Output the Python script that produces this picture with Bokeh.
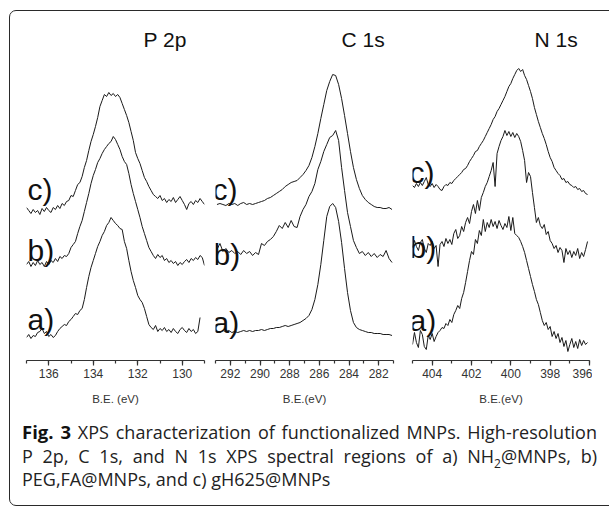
from bokeh.plotting import figure
from bokeh.models import Range1d, SingleIntervalTicker, Label, Div
from bokeh.layouts import row, column
from bokeh.embed import file_html
from bokeh.resources import INLINE

NAN = float("nan")

# ---------------- P 2p ----------------
P_BE = [137.0, 136.9, 136.8, 136.7, 136.6, 136.5, 136.4, 136.3, 136.2, 136.1,
        136.0, 135.9, 135.8, 135.7, 135.6, 135.5, 135.4, 135.3, 135.2, 135.1,
        135.0, 134.9, 134.8, 134.7, 134.6, 134.5, 134.4, 134.3, 134.2, 134.1,
        134.0, 133.9, 133.8, 133.7, 133.6, 133.5, 133.4, 133.3, 133.2, 133.1,
        133.0, 132.9, 132.8, 132.7, 132.6, 132.5, 132.4, 132.3, 132.2, 132.1,
        132.0, 131.9, 131.8, 131.7, 131.6, 131.5, 131.4, 131.3, 131.2, 131.1,
        131.0, 130.9, 130.8, 130.7, 130.6, 130.5, 130.4, 130.3, 130.2, 130.1,
        130.0, 129.9, 129.8, 129.7, 129.6, 129.5, 129.4, 129.3, 129.2, 129.1,
        129.0]
P_C = [165, 162, 159, 163, 160, 162, 158, 164, 161, 165,
       162, 160, 165, 163, 167, 164, 169, 167, 171, 172,
       177, 176, 182, 188, 190, 196, 205, 212, 222, 231,
       238, 246, 255, 266, 272, 278, 276, 280, 277, 279,
       276, 278, 275, 269, 263, 257, 250, 241, 232, 220,
       214, 209, 202, 195, 191, 186, 182, 178, 176, 174,
       177, 172, 174, 170, 173, 171, 175, 170, 173, 176,
       172, 168, 163, 169, 171, 168, 172, 170, 174, 171,
       168]
P_B = [108, 111, 106, 110, 107, 112, 108, 110, 106, 111,
       108, 112, 110, 114, 111, 116, 114, 117, 116, 119,
       125, 128, 131, 139, 146, 152, 161, 170, 179, 189,
       197, 203, 210, 214, 219, 223, 226, 229, 231, 236,
       233, 228, 223, 216, 211, 208, 199, 188, 179, 171,
       163, 155, 146, 139, 132, 125, 121, 117, 114, 118,
       115, 117, 112, 114, 110, 112, 109, 111, 107, 110,
       108, 111, 113, 110, 114, 112, 115, 113, 117, 115,
       107]
P_A = [35, 38, 34, 37, 36, 40, 41, 44, 39, 41,
       36, 38, 35, 37, 41, 44, 46, 48, 47, 51,
       53, 56, 59, 58, 62, 64, 73, 85, 96, 105,
       112, 119, 126, 131, 137, 141, 147, 150, 155, 152,
       149, 147, 144, 143, 131, 124, 112, 101, 92, 85,
       77, 73, 70, 64, 56, 48, 45, 43, 47, 41,
       44, 42, 45, 41, 43, 40, 44, 41, 39, 43,
       45, 42, 40, 44, 41, 43, 39, 41, 55, NAN,
       NAN]

# ---------------- C 1s ----------------
C_BE = [292.9, 292.7, 292.5, 292.3, 292.1, 291.9, 291.7, 291.5, 291.3, 291.1,
        290.9, 290.7, 290.5, 290.3, 290.1, 289.9, 289.7, 289.5, 289.3, 289.1,
        288.9, 288.7, 288.5, 288.3, 288.1, 287.9, 287.7, 287.5, 287.3, 287.1,
        286.9, 286.7, 286.5, 286.3, 286.1, 285.9, 285.7, 285.5, 285.3, 285.1,
        284.9, 284.7, 284.5, 284.3, 284.1, 283.9, 283.7, 283.5, 283.3, 283.1,
        282.9, 282.7, 282.5, 282.3, 282.1, 281.9, 281.7, 281.5, 281.3, 281.1]
C_C = [168, 169, 168, 167, 169, 168, 169, 167, 169, 170,
       168, 169, 168, 169, 170, 171, 172, 174, 175, 177,
       179, 181, 183, 186, 188, 190, 191, 192, 195, 198,
       202, 207, 215, 226, 239, 254, 268, 282, 291, 298,
       297, 288, 274, 257, 239, 221, 205, 193, 184, 177,
       173, 170, 168, 166, 165, 165, 164, 164, 165, 163]
C_B = [123, 129, 121, 124, 120, 122, 119, 121, 118, 122,
       119, 121, 117, 120, 118, 129, 127, 131, 133, 136,
       141, 147, 144, 150, 145, 152, 146, 145, 156, 163,
       168, 176, 181, 189, 203, 211, 221, 228, 235, 237,
       242, 232, 205, 182, 160, 146, 132, 125, 119, 121,
       117, 120, 116, 119, 115, 118, 116, 122, 114, 110]
C_A = [41, 40, 42, 41, 42, 40, 41, 40, 41, 42,
       41, 42, 41, 42, 42, 43, 42, 43, 44, 44,
       45, 45, 46, 47, 46, 47, 48, 49, 50, 52,
       54, 57, 63, 73, 88, 108, 132, 156, 166, 169,
       165, 151, 130, 104, 80, 62, 50, 45, 43, 42,
       41, 40, 40, 39, 39, 39, 38, 38, 38, 37]

# ---------------- N 1s ----------------
N_BE = [405.0, 404.9, 404.8, 404.7, 404.6, 404.5, 404.4, 404.3, 404.2, 404.1,
        404.0, 403.9, 403.8, 403.7, 403.6, 403.5, 403.4, 403.3, 403.2, 403.1,
        403.0, 402.9, 402.8, 402.7, 402.6, 402.5, 402.4, 402.3, 402.2, 402.1,
        402.0, 401.9, 401.8, 401.7, 401.6, 401.5, 401.4, 401.3, 401.2, 401.1,
        401.0, 400.9, 400.8, 400.7, 400.6, 400.5, 400.4, 400.3, 400.2, 400.1,
        400.0, 399.9, 399.8, 399.7, 399.6, 399.5, 399.4, 399.3, 399.2, 399.1,
        399.0, 398.9, 398.8, 398.7, 398.6, 398.5, 398.4, 398.3, 398.2, 398.1,
        398.0, 397.9, 397.8, 397.7, 397.6, 397.5, 397.4, 397.3, 397.2, 397.1,
        397.0, 396.9, 396.8, 396.7, 396.6, 396.5, 396.4, 396.3, 396.2, 396.1]
N_C = [187, 185, 189, 186, 190, 187, 191, 195, 188, 186,
       189, 185, 188, 186, 183, 182, 186, 188, 187, 190,
       189, 192, 194, 196, 198, 200, 203, 204, 207, 211,
       214, 217, 221, 222, 226, 229, 232, 236, 240, 244,
       248, 253, 256, 261, 264, 268, 272, 276, 281, 286,
       289, 294, 298, 302, 304, 301, 303, 297, 293, 287,
       281, 274, 265, 258, 251, 245, 239, 234, 228, 221,
       215, 211, 205, 202, 199, 197, 193, 194, 190, 191,
       188, 187, 185, 186, 183, 184, 181, 182, 179, 178]
N_B = [125, 132, 126, 122, 130, 133, 124, 120, 129, 127,
       131, 124, 127, 106, 128, 131, 126, 134, 129, 133,
       128, 139, 143, 134, 137, 146, 141, 150, 155, 149,
       161, 168, 159, 172, 162, 175, 180, 186, 190, 196,
       202, 210, 186, 219, 226, 232, 236, 242, 237, 241,
       236, 240, 235, 239, 236, 231, 222, 212, 190, 200,
       196, 180, 165, 150, 155, 147, 144, 148, 138, 141,
       132, 129, 124, 127, 120, 125, 122, 110, 124, 118,
       122, 115, 121, 117, 124, 114, 120, 116, 123, 131]
N_A = [28, 40, 30, 25, 42, 38, 26, 23, 37, 33,
       39, 31, 36, 40, 42, 45, 44, 49, 47, 53,
       50, 58, 62, 67, 64, 74, 80, 90, 101, 112,
       121, 118, 133, 129, 142, 137, 153, 141, 150, 145,
       153, 146, 151, 144, 152, 147, 143, 149, 145, 156,
       142, 155, 139, 137, 135, 131, 126, 120, 112, 104,
       96, 88, 81, 73, 68, 60, 52, 47, 50, 43,
       46, 36, 41, 34, 39, 30, 35, 26, 32, 21,
       28, 34, 25, 31, 24, 33, 27, 32, 28, 30]

TITLES = ["P 2p", "C 1s", "N 1s"]
X_LABELS = ["B.E. (eV)", "B.E.(eV)", "B.E.(eV)"]
X_RANGES = [(137.0, 129.0), (293.0, 281.0), (405.0, 396.0)]
CURVE_LABELS = ["a)", "b)", "c)"]

FONT = "Liberation Sans"
INK = "#1a1a1a"


def make_panel(title, xlabel, xr, be, series, frame_w, left, right,
               title_x, lab_pos):
    p = figure(frame_width=frame_w, frame_height=348, x_range=Range1d(*xr),
               y_range=Range1d(12, 360), output_backend="svg",
               toolbar_location=None, y_axis_location=None,
               min_border_left=left, min_border_right=right,
               min_border_top=12, min_border_bottom=49)
    p.outline_line_color = None
    p.xgrid.grid_line_color = None
    p.ygrid.grid_line_color = None
    p.background_fill_color = "white"
    p.border_fill_color = "white"
    for ys in series:
        p.line(be, ys, line_color=INK, line_width=1)
    ax = p.xaxis[0]
    ax.ticker = SingleIntervalTicker(interval=2, num_minor_ticks=2)
    ax.axis_line_color = "#333333"
    ax.axis_line_width = 1.2
    ax.major_tick_line_color = "#333333"
    ax.minor_tick_line_color = "#333333"
    ax.major_tick_line_width = 1.2
    ax.minor_tick_line_width = 1.2
    ax.major_tick_in = 0
    ax.major_tick_out = 5
    ax.minor_tick_in = 0
    ax.minor_tick_out = 3
    ax.major_label_standoff = 3
    ax.major_label_text_font = FONT
    ax.major_label_text_font_size = "12px"
    ax.major_label_text_color = "#333333"
    ax.axis_label = xlabel
    ax.axis_label_text_font = FONT
    ax.axis_label_text_font_size = "11.5px"
    ax.axis_label_text_font_style = "normal"
    ax.axis_label_text_color = "#333333"
    ax.axis_label_standoff = 12
    p.add_layout(Label(x=title_x, y=321, x_units="screen", y_units="screen",
                       text=title, text_font=FONT, text_font_size="21px",
                       text_color="#111111", text_baseline="alphabetic"))
    for txt, (lx, ly) in zip(CURVE_LABELS, lab_pos):
        p.add_layout(Label(x=lx, y=ly, x_units="screen", y_units="screen",
                           text=txt, text_font=FONT, text_font_size="30px",
                           text_color="#111111", text_baseline="alphabetic"))
    return p


pP = make_panel(TITLES[0], X_LABELS[0], X_RANGES[0], P_BE, [P_A, P_B, P_C],
                178, 26, 5, 117, [(1, 41), (1, 110), (1, 171)])
pC = make_panel(TITLES[1], X_LABELS[1], X_RANGES[1], C_BE, [C_A, C_B, C_C],
                178, 6, 10, 126, [(-3, 38), (-2, 106), (-3, 171)])
pN = make_panel(TITLES[2], X_LABELS[2], X_RANGES[2], N_BE, [N_A, N_B, N_C],
                177, 9, 3, 122, [(-3, 40), (-3, 113), (-3, 188)])

caption_html = (
    '<div style="position:fixed;left:8.5px;top:9.5px;width:640px;height:496px;'
    'border:1.5px solid #2a2a2a;border-radius:7px;pointer-events:none;'
    'box-sizing:border-box;"></div>'
    '<div style="font-family:\'Open Sans\';font-size:18px;line-height:23.5px;'
    'color:#222;width:575px;margin-left:17px;margin-top:6px;">'
    '<div style="text-align:justify;text-align-last:justify;white-space:nowrap;">'
    '<b style="color:#111;font-size:18.5px;">Fig. 3</b> XPS characterization of functionalized MNPs. High-resolution</div>'
    '<div style="text-align:justify;text-align-last:justify;white-space:nowrap;">'
    'P 2p, C 1s, and N 1s XPS spectral regions of a) NH<sub style="font-size:12px;line-height:0;">2</sub>@MNPs, b)</div>'
    '<div style="white-space:nowrap;">PEG,FA@MNPs, and c) gH625@MNPs</div>'
    '</div>'
)
caption = Div(text=caption_html, width=593, height=82)

layout = column(row(pP, pC, pN), caption)

open("out.html", "w").write(file_html(layout, INLINE))
